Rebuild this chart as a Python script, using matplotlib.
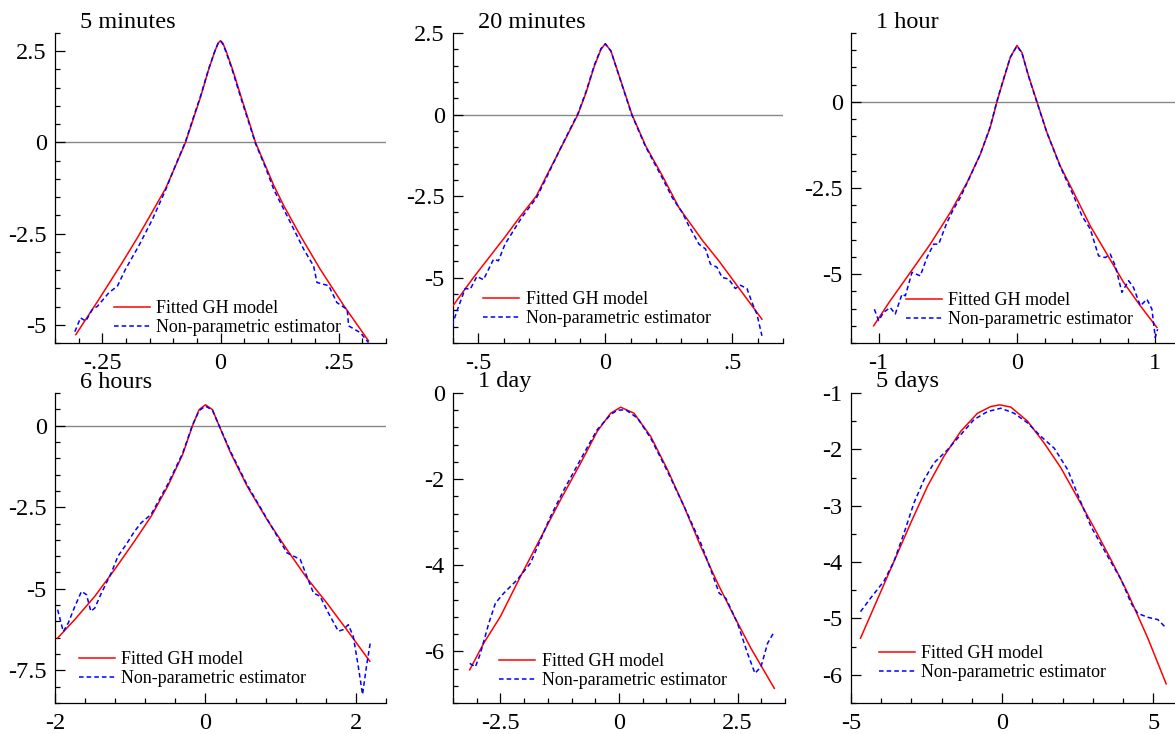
import numpy as np
import matplotlib
matplotlib.use("Agg")
import matplotlib.pyplot as plt
from matplotlib.ticker import MultipleLocator, FuncFormatter

plt.rcParams["font.family"] = ["Liberation Serif", "DejaVu Serif"]
plt.rcParams["axes.unicode_minus"] = False

# ---- data (log-density of returns) ----
titles = ["5 minutes", "20 minutes", "1 hour", "6 hours", "1 day", "5 days"]

# 5 minutes
fit_x_5m = [-0.306, -0.257, -0.208, -0.176, -0.141, -0.116, -0.095, -0.074, -0.060, -0.042, -0.025, -0.012,
            -0.005, 0.0, 0.005, 0.012, 0.025, 0.046, 0.060, 0.074, 0.095, 0.113, 0.134, 0.169, 0.211,
            0.261, 0.313]
fit_y_5m = [-5.27, -4.30, -3.30, -2.62, -1.83, -1.26, -0.64, 0.0, 0.55, 1.25, 2.0, 2.5,
            2.72, 2.79, 2.72, 2.5, 2.02, 1.15, 0.58, 0.0, -0.64, -1.19, -1.74, -2.56, -3.48,
            -4.48, -5.44]
np_x_5m = [-0.308, -0.296, -0.285, -0.271, -0.260, -0.236, -0.218, -0.201, -0.173, -0.144, -0.116, -0.095,
           -0.074, -0.060, -0.042, -0.025, -0.012, -0.005, 0.0, 0.005, 0.012, 0.025, 0.046, 0.060, 0.074,
           0.095, 0.113, 0.148, 0.176, 0.197, 0.204, 0.229, 0.246, 0.268, 0.271, 0.296, 0.313]
np_y_5m = [-5.19, -4.81, -4.90, -4.58, -4.49, -4.12, -3.94, -3.48, -2.84, -2.11, -1.30, -0.62,
           0.02, 0.58, 1.28, 2.02, 2.50, 2.72, 2.78, 2.70, 2.47, 1.98, 1.10, 0.54, -0.03,
           -0.68, -1.30, -2.20, -2.93, -3.39, -3.84, -3.93, -4.39, -4.58, -5.03, -5.22, -5.49]

# 20 minutes
fit_x_20m = [-0.604, -0.52, -0.45, -0.395, -0.335, -0.272, -0.233, -0.167, -0.108, -0.076, -0.043, -0.017, 0.0,
             0.022, 0.055, 0.105, 0.159, 0.225, 0.29, 0.382, 0.447, 0.539, 0.617]
fit_y_20m = [-5.90, -5.0, -4.3, -3.75, -3.12, -2.5, -1.9, -0.9, 0.0, 0.67, 1.49, 2.0, 2.17,
             1.95, 1.18, 0.0, -0.96, -1.88, -2.85, -3.85, -4.48, -5.45, -6.27]
np_x_20m = [-0.604, -0.584, -0.552, -0.532, -0.506, -0.48, -0.44, -0.421, -0.395, -0.362, -0.329, -0.271,
            -0.233, -0.167, -0.108, -0.076, -0.043, -0.017, 0.0, 0.022, 0.055, 0.105, 0.159, 0.225,
            0.264, 0.303, 0.329, 0.369, 0.395, 0.414, 0.44, 0.46, 0.486, 0.512, 0.532, 0.558, 0.578,
            0.597, 0.617]
np_y_20m = [-6.47, -6.01, -5.33, -5.35, -4.96, -5.06, -4.43, -4.48, -3.97, -3.56, -3.15, -2.55,
            -1.95, -0.88, 0.03, 0.70, 1.52, 2.02, 2.17, 1.95, 1.16, -0.02, -0.99, -1.95,
            -2.55, -3.0, -3.41, -3.97, -4.12, -4.58, -4.68, -4.99, -5.04, -5.33, -5.23, -5.33, -5.76,
            -6.11, -6.78]

# 1 hour
fit_x_1h = [-1.036, -0.916, -0.771, -0.627, -0.482, -0.361, -0.265, -0.193, -0.145, -0.096, -0.048, 0.0,
            0.036, 0.084, 0.145, 0.217, 0.313, 0.41, 0.53, 0.651, 0.771, 0.892, 1.012]
fit_y_1h = [-6.5, -5.77, -4.95, -4.13, -3.21, -2.34, -1.52, -0.74, 0.0, 0.66, 1.29, 1.64,
            1.43, 0.75, 0.0, -0.89, -1.86, -2.63, -3.6, -4.42, -5.24, -5.92, -6.55]
np_x_1h = [-1.031, -1.0, -0.964, -0.916, -0.88, -0.831, -0.807, -0.759, -0.699, -0.651, -0.602, -0.566,
           -0.506, -0.458, -0.41, -0.361, -0.265, -0.193, -0.145, -0.096, -0.048, 0.0, 0.036, 0.084,
           0.145, 0.217, 0.313, 0.41, 0.47, 0.53, 0.59, 0.639, 0.675, 0.711, 0.759, 0.807, 0.843,
           0.892, 0.94, 0.976, 1.0, 1.017]
np_y_1h = [-6.02, -6.35, -6.11, -5.97, -6.16, -5.58, -5.63, -4.95, -5.05, -4.52, -4.13, -4.13,
           -3.50, -3.11, -2.78, -2.36, -1.52, -0.72, 0.02, 0.68, 1.30, 1.62, 1.42, 0.74,
           -0.02, -0.90, -1.88, -2.73, -3.31, -3.69, -4.47, -4.52, -4.42, -4.76, -5.53, -5.19, -5.39,
           -5.92, -5.73, -6.02, -6.84, -6.60]

# 6 hours
fit_x_6h = [-1.965, -1.736, -1.471, -1.207, -0.943, -0.722, -0.502, -0.304, -0.172, -0.084, 0.0,
            0.093, 0.181, 0.335, 0.555, 0.819, 1.084, 1.348, 1.612, 1.877, 2.185]
fit_y_6h = [-6.51, -5.94, -5.23, -4.41, -3.54, -2.78, -1.86, -0.89, 0.0, 0.49, 0.64,
            0.49, 0.0, -0.84, -1.86, -2.88, -3.8, -4.67, -5.43, -6.25, -7.22]
np_x_6h = [-1.965, -1.89, -1.824, -1.736, -1.648, -1.581, -1.524, -1.471, -1.383, -1.251, -1.163, -1.053,
           -0.943, -0.855, -0.722, -0.502, -0.304, -0.172, -0.084, 0.0, 0.093, 0.181, 0.335, 0.555,
           0.819, 1.084, 1.172, 1.26, 1.348, 1.436, 1.524, 1.634, 1.767, 1.833, 1.899, 1.965, 2.031,
           2.088, 2.141, 2.194]
np_y_6h = [-5.64, -6.31, -6.05, -5.54, -5.08, -5.18, -5.69, -5.59, -5.13, -4.51, -4.00, -3.64,
           -3.24, -2.98, -2.72, -1.80, -0.85, 0.02, 0.46, 0.60, 0.47, 0.0, -0.80, -1.82,
           -2.86, -3.90, -4.00, -4.10, -4.62, -5.13, -5.23, -5.74, -6.30, -6.25, -6.10, -6.46, -7.37,
           -8.24, -7.37, -6.61]

# 1 day
fit_x_1d = [-3.148, -2.852, -2.5, -2.077, -1.655, -1.232, -0.81, -0.458, -0.176, 0.035,
            0.317, 0.669, 1.022, 1.374, 1.726, 2.08, 2.43, 2.782, 3.275]
fit_y_1d = [-6.43, -5.81, -5.19, -4.26, -3.37, -2.48, -1.63, -0.89, -0.47, -0.33,
            -0.47, -1.01, -1.78, -2.64, -3.57, -4.42, -5.19, -5.93, -6.86]
np_x_1d = [-3.148, -3.028, -2.922, -2.746, -2.605, -2.43, -2.148, -1.866, -1.655, -1.444, -1.162, -0.739,
           -0.458, -0.176, -0.035, 0.141, 0.388, 0.669, 1.022, 1.374, 1.726, 1.937, 2.113, 2.254,
           2.5, 2.711, 2.866, 2.993, 3.134, 3.26]
np_y_1d = [-6.28, -6.36, -6.05, -5.35, -4.88, -4.65, -4.34, -3.95, -3.41, -2.87, -2.25, -1.40,
           -0.85, -0.50, -0.40, -0.39, -0.58, -1.05, -1.82, -2.64, -3.49, -4.11, -4.65, -4.77,
           -5.35, -6.05, -6.51, -6.36, -5.81, -5.57]

# 5 days
fit_x_5d = [-4.685, -4.133, -3.58, -3.028, -2.475, -1.923, -1.37, -0.818, -0.376, -0.077,
            0.287, 0.84, 1.392, 1.945, 2.497, 3.05, 3.602, 4.155, 4.818, 5.425]
fit_y_5d = [-5.35, -4.67, -3.99, -3.31, -2.66, -2.12, -1.68, -1.36, -1.24, -1.21,
            -1.25, -1.5, -1.89, -2.33, -2.86, -3.4, -3.96, -4.55, -5.35, -6.16]
np_x_5d = [-4.685, -4.354, -3.912, -3.58, -3.249, -2.917, -2.586, -2.254, -1.812, -1.37, -0.928, -0.486,
           -0.044, 0.398, 0.84, 1.282, 1.724, 2.166, 2.497, 2.939, 3.492, 3.934, 4.265, 4.486,
           4.818, 5.149, 5.425]
np_y_5d = [-4.88, -4.64, -4.34, -3.99, -3.49, -2.95, -2.54, -2.24, -2.01, -1.74, -1.47, -1.33,
           -1.27, -1.36, -1.53, -1.77, -1.98, -2.36, -2.80, -3.37, -3.90, -4.31, -4.73, -4.91,
           -4.98, -5.02, -5.17]

fits = [(fit_x_5m, fit_y_5m), (fit_x_20m, fit_y_20m), (fit_x_1h, fit_y_1h),
        (fit_x_6h, fit_y_6h), (fit_x_1d, fit_y_1d), (fit_x_5d, fit_y_5d)]
nonpar = [(np_x_5m, np_y_5m), (np_x_20m, np_y_20m), (np_x_1h, np_y_1h),
          (np_x_6h, np_y_6h), (np_x_1d, np_y_1d), (np_x_5d, np_y_5d)]

xlims = [(-0.35, 0.35), (-0.6, 0.7), (-1.2, 1.15), (-2, 2.4), (-3.5, 3.5), (-5, 5.75)]
ylims = [(-5.5, 3), (-7, 2.5), (-7, 2), (-8.5, 1), (-7.2, 0), (-6.5, -1)]
x_major = [0.25, 0.5, 1, 2, 2.5, 5]
x_minor = [0.05, 0.1, 0.2, 0.4, 0.5, 1]
y_major = [2.5, 2.5, 2.5, 2.5, 2, 1]
y_minor = [0.5, 0.5, 0.5, 0.5, 0.4, 0.5]
zero_line = [True, True, True, True, False, False]

# axes boxes in pixels: left, top, width, height
W, H = 1175, 734
boxes = [(55, 33, 331, 310), (453, 33, 330, 310), (851, 33, 325, 310),
         (55, 393, 331, 310), (453, 393, 332, 310), (851, 393, 325, 310)]
legend_pos = [(0.178, 0.023), (0.092, 0.052), (0.169, 0.048),
              (0.071, 0.052), (0.139, 0.045), (0.086, 0.071)]


def tick_fmt(v, pos):
    s = "%g" % v
    s = s.replace("0.", ".") if abs(v) < 1 and v != 0 else s
    return s


fig = plt.figure(figsize=(W / 100, H / 100), dpi=100)

for i in range(6):
    l, t, w, h = boxes[i]
    ax = fig.add_axes([l / W, (H - t - h) / H, w / W, h / H])
    if zero_line[i]:
        ax.axhline(0, color="#888888", lw=1.0, zorder=1)
    ax.plot(*fits[i], color="red", lw=1.1, label="Fitted GH model", zorder=3)
    ax.plot(*nonpar[i], color="blue", lw=1.1, ls=(0, (3, 2)),
            label="Non-parametric estimator", zorder=4)
    ax.set_xlim(*xlims[i])
    ax.set_ylim(*ylims[i])
    ax.xaxis.set_major_locator(MultipleLocator(x_major[i]))
    ax.xaxis.set_minor_locator(MultipleLocator(x_minor[i]))
    ax.yaxis.set_major_locator(MultipleLocator(y_major[i]))
    ax.yaxis.set_minor_locator(MultipleLocator(y_minor[i]))
    ax.xaxis.set_major_formatter(FuncFormatter(tick_fmt))
    ax.yaxis.set_major_formatter(FuncFormatter(tick_fmt))
    ax.tick_params(which="both", direction="in", width=0.9, labelsize=17.5)
    ax.tick_params(which="major", length=7)
    ax.tick_params(which="minor", length=3.5)
    ax.tick_params(axis="x", which="major", pad=7)
    ax.tick_params(axis="y", which="major", pad=6)
    for side in ["top", "right"]:
        ax.spines[side].set_visible(False)
    for side in ["left", "bottom"]:
        ax.spines[side].set_linewidth(0.9)
    ax.patch.set_alpha(0)
    ax.text(25 / w, 1 + 11 / h, titles[i], transform=ax.transAxes,
            ha="left", va="center", fontsize=17.5)
    ax.legend(loc="lower left", bbox_to_anchor=legend_pos[i], frameon=False,
              fontsize=13, handlelength=2.0, handletextpad=0.35,
              labelspacing=0.1, borderpad=0, borderaxespad=0)

fig.savefig("out.png", dpi=100)
